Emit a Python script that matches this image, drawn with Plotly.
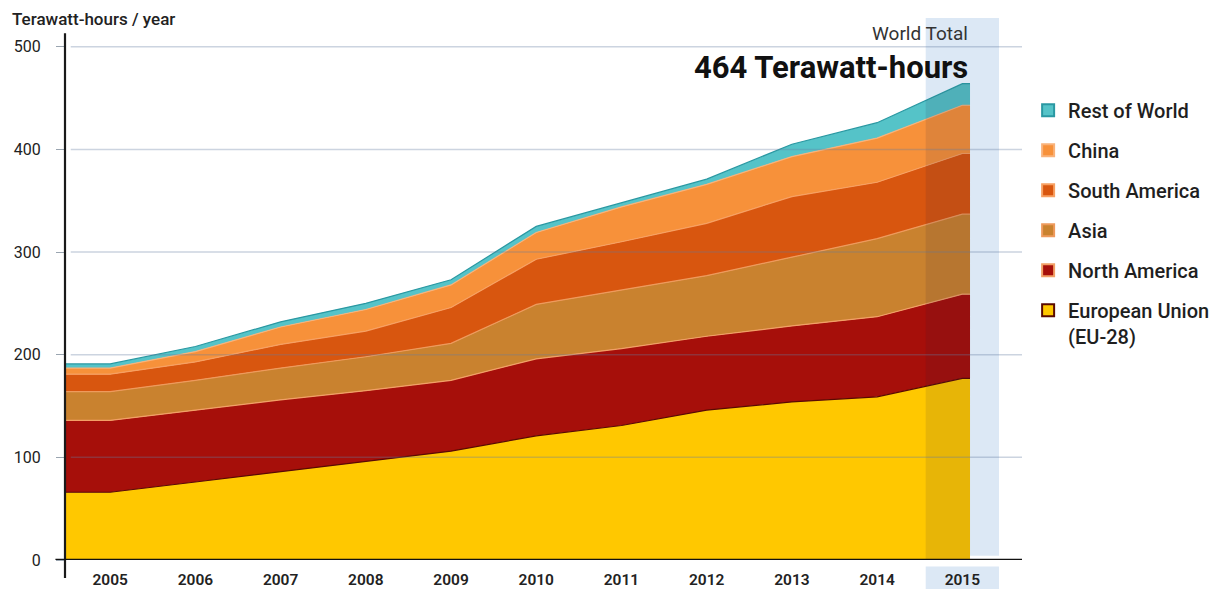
import plotly.graph_objects as go

years = [2005, 2006, 2007, 2008, 2009, 2010, 2011, 2012, 2013, 2014, 2015]
year_labels = [str(y) for y in years]
eu = [66, 76, 86, 96, 106, 121, 131, 146, 154, 159, 177]
north_america = [70, 70, 70, 69, 69, 75, 75, 72, 74, 78, 82]
asia = [28, 29, 31, 33, 36, 53, 57, 59, 67, 76, 78]
south_america = [17, 18, 23, 25, 35, 44, 47, 51, 59, 55, 59]
china = [6, 10, 17, 21, 22, 26, 34, 38, 39, 43, 47]
rest_of_world = [4, 5, 5, 6, 5, 6, 4, 5, 12, 15, 21]
y_ticks = [0, 100, 200, 300, 400, 500]

series = [
    ("European Union<br>(EU-28)", eu, "#FFC800", "#5A0A00"),
    ("North America", north_america, "#A60F0A", "#F2A066"),
    ("Asia", asia, "#C9822F", "#EE9A5C"),
    ("South America", south_america, "#D8560F", "#F7A062"),
    ("China", china, "#F7913A", "#F9B27A"),
    ("Rest of World", rest_of_world, "#55C3C8", "#2A98A2"),
]

x_left = 2004.47
x_right = 2015.7
band_x0 = years[-1] - 0.43
band_x1 = years[-1] + 0.43
# areas reach the axis on the left and a little past the last year on the right
x_plot = [x_left] + years + [years[-1] + 0.09]
totals = [sum(v) for v in zip(eu, north_america, asia, south_america, china, rest_of_world)]

fig = go.Figure()
for name, vals, fill, edge in series:
    fig.add_trace(go.Scatter(
        x=x_plot, y=[vals[0]] + vals + [vals[-1]],
        stackgroup="one", mode="lines",
        line=dict(color=edge, width=1.2),
        fillcolor=fill, showlegend=False, hoverinfo="skip",
    ))

# darkening of the highlighted year, clipped to the band through a narrow x-axis
fig.add_trace(go.Scatter(
    x=x_plot, y=[totals[0]] + totals + [totals[-1]], xaxis="x2", yaxis="y",
    mode="lines", line=dict(width=0), fill="tozeroy",
    fillcolor="rgba(40,30,60,0.11)", showlegend=False, hoverinfo="skip",
))

# legend entries (top to bottom)
for i, (name, vals, fill, edge) in enumerate(reversed(series)):
    fig.add_trace(go.Scatter(
        x=[None], y=[None], mode="markers", name=name,
        legendgroup=f"g{i}",
        marker=dict(symbol="square", size=16, color=fill,
                    line=dict(color=edge, width=1)),
    ))

shapes = []
band_color = "#DCE8F5"
shapes.append(dict(type="rect", xref="x", yref="paper",
                   x0=band_x0, x1=band_x1, y0=0.008, y1=1,
                   fillcolor=band_color, line_width=0, layer="below"))
shapes.append(dict(type="rect", xref="x", yref="paper",
                   x0=band_x0, x1=band_x1, y0=-0.012, y1=-0.07,
                   fillcolor=band_color, line_width=0, layer="below"))
# gridlines on top of the areas
for t in y_ticks[1:]:
    shapes.append(dict(type="line", xref="paper", yref="y", x0=0.006, x1=1, y0=t, y1=t,
                       line=dict(color="rgba(100,125,160,0.33)", width=1.5), layer="above"))
# axes
shapes.append(dict(type="line", xref="paper", yref="paper", x0=0, x1=0, y0=-0.033, y1=0.972,
                   line=dict(color="#1a1a1a", width=2.2), layer="above"))
shapes.append(dict(type="line", xref="paper", yref="y", x0=-0.01, x1=1, y0=0, y1=0,
                   line=dict(color="#111111", width=2.5), layer="above"))

span = x_right - x_left
fig.update_layout(
    width=1206, height=581,
    margin=dict(l=57, r=192, t=10, b=29, autoexpand=False),
    paper_bgcolor="white", plot_bgcolor="rgba(0,0,0,0)",
    font=dict(family="Roboto, Arial, sans-serif", color="#222222"),
    showlegend=True,
    legend=dict(x=1.0064, xanchor="left", y=0.866, yanchor="top",
                font=dict(size=20, color="#1f1f1f", weight=500), tracegroupgap=11,
                valign="top", bgcolor="rgba(0,0,0,0)", itemsizing="constant"),
    xaxis=dict(range=[x_left, x_right], tickvals=years, ticktext=year_labels,
               showgrid=False, zeroline=False, showline=False, ticks="", automargin=False,
               tickfont=dict(size=15.5, color="#222222", weight=600),
               ticklabelstandoff=8),
    xaxis2=dict(range=[band_x0, band_x1], anchor="y", visible=False,
                domain=[(band_x0 - x_left) / span, (band_x1 - x_left) / span]),
    yaxis=dict(range=[0, 528], tickvals=y_ticks, showgrid=False, zeroline=False,
               showline=False, ticks="outside", ticklen=8, tickcolor="#9aa5b0", automargin=False,
               tickfont=dict(size=16, color="#222222"), ticklabelstandoff=12),
    shapes=shapes,
    annotations=[
        dict(text="Terawatt-hours / year", xref="paper", yref="paper",
             x=-0.0575, y=0.999, xanchor="left", yanchor="middle", showarrow=False,
             font=dict(size=17, color="#222222", weight=500)),
        dict(text="World Total", xref="paper", yref="paper",
             x=0.9457, y=0.972, xanchor="right", yanchor="middle", showarrow=False,
             font=dict(size=19, color="#333333")),
        dict(text="464 Terawatt-hours", xref="paper", yref="paper",
             x=0.9457, y=0.909, xanchor="right", yanchor="middle", showarrow=False,
             font=dict(size=31, color="#111111", weight="bold")),
    ],
)

fig.write_html("out.html")
